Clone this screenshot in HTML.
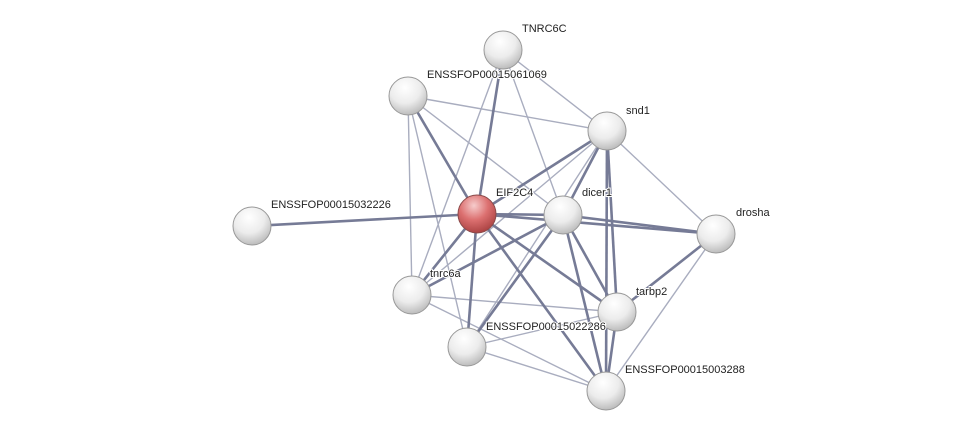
<!DOCTYPE html>
<html><head><meta charset="utf-8"><style>
html,body{margin:0;padding:0;background:#fff;}
svg{display:block;}
text{font-family:"Liberation Sans",sans-serif;font-size:11px;fill:#222;paint-order:stroke;stroke:#fff;stroke-width:2px;}
</style></head><body>
<svg width="975" height="437" viewBox="0 0 975 437" xmlns="http://www.w3.org/2000/svg">
<defs>
<radialGradient id="g" cx="42%" cy="28%" r="75%">
<stop offset="0" stop-color="#ffffff"/><stop offset="0.55" stop-color="#ececec"/><stop offset="1" stop-color="#b8b8b8"/>
</radialGradient>
<radialGradient id="r" cx="42%" cy="28%" r="75%">
<stop offset="0" stop-color="#f6cccc"/><stop offset="0.5" stop-color="#dc7070"/><stop offset="1" stop-color="#a84040"/>
</radialGradient>
</defs>
<g stroke="#a9adbf" stroke-width="1.4" fill="none">
<line x1="408" y1="96" x2="607" y2="131"/>
<line x1="408" y1="96" x2="412" y2="295"/>
<line x1="408" y1="96" x2="467" y2="347"/>
<line x1="408" y1="96" x2="563" y2="215"/>
<line x1="503" y1="50" x2="607" y2="131"/>
<line x1="503" y1="50" x2="412" y2="295"/>
<line x1="503" y1="50" x2="563" y2="215"/>
<line x1="607" y1="131" x2="716" y2="234"/>
<line x1="607" y1="131" x2="467" y2="347"/>
<line x1="716" y1="234" x2="606" y2="391"/>
<line x1="412" y1="295" x2="617" y2="312"/>
<line x1="412" y1="295" x2="606" y2="391"/>
<line x1="467" y1="347" x2="617" y2="312"/>
<line x1="467" y1="347" x2="606" y2="391"/>
<line x1="607" y1="131" x2="412" y2="295"/>
</g>
<g stroke="#767b96" stroke-width="2.6" fill="none">
<line x1="477" y1="214" x2="252" y2="226"/>
<line x1="477" y1="214" x2="563" y2="215"/>
<line x1="477" y1="214" x2="607" y2="131"/>
<line x1="477" y1="214" x2="408" y2="96"/>
<line x1="477" y1="214" x2="503" y2="50"/>
<line x1="477" y1="214" x2="617" y2="312"/>
<line x1="477" y1="214" x2="606" y2="391"/>
<line x1="477" y1="214" x2="716" y2="234"/>
<line x1="477" y1="214" x2="412" y2="295"/>
<line x1="477" y1="214" x2="467" y2="347"/>
<line x1="563" y1="215" x2="607" y2="131"/>
<line x1="563" y1="215" x2="716" y2="234"/>
<line x1="563" y1="215" x2="617" y2="312"/>
<line x1="563" y1="215" x2="606" y2="391"/>
<line x1="563" y1="215" x2="467" y2="347"/>
<line x1="563" y1="215" x2="412" y2="295"/>
<line x1="607" y1="131" x2="617" y2="312"/>
<line x1="607" y1="131" x2="606" y2="391"/>
<line x1="716" y1="234" x2="617" y2="312"/>
<line x1="617" y1="312" x2="606" y2="391"/>
</g>
<g stroke="#999" stroke-width="1">
<circle cx="503" cy="50" r="19" fill="url(#g)"/>
<circle cx="408" cy="96" r="19" fill="url(#g)"/>
<circle cx="607" cy="131" r="19" fill="url(#g)"/>
<circle cx="252" cy="226" r="19" fill="url(#g)"/>
<circle cx="563" cy="215" r="19" fill="url(#g)"/>
<circle cx="716" cy="234" r="19" fill="url(#g)"/>
<circle cx="412" cy="295" r="19" fill="url(#g)"/>
<circle cx="617" cy="312" r="19" fill="url(#g)"/>
<circle cx="467" cy="347" r="19" fill="url(#g)"/>
<circle cx="606" cy="391" r="19" fill="url(#g)"/>
<circle cx="477" cy="214" r="19" fill="url(#r)" stroke="#8a4a4a"/>
</g>
<text x="522" y="32">TNRC6C</text>
<text x="427" y="78">ENSSFOP00015061069</text>
<text x="626" y="114">snd1</text>
<text x="496" y="196">EIF2C4</text>
<text x="582" y="196">dicer1</text>
<text x="271" y="208">ENSSFOP00015032226</text>
<text x="736" y="216">drosha</text>
<text x="430" y="277">tnrc6a</text>
<text x="636" y="295">tarbp2</text>
<text x="486" y="330">ENSSFOP00015022286</text>
<text x="625" y="373">ENSSFOP00015003288</text>
</svg>
</body></html>
